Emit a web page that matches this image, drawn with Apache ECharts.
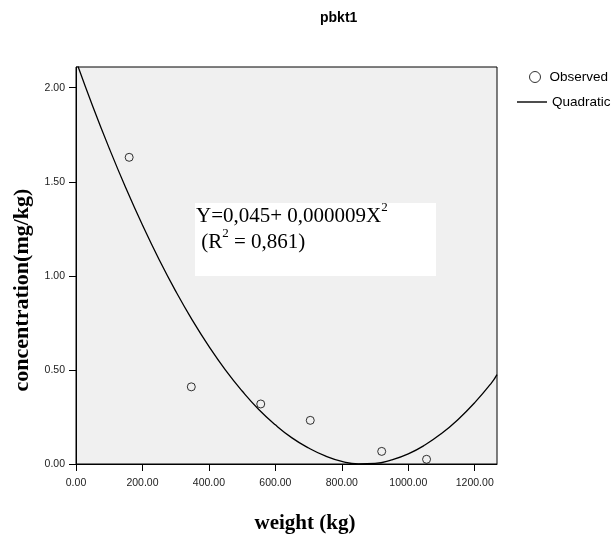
<!DOCTYPE html>
<html>
<head>
<meta charset="utf-8">
<script src="https://cdn.jsdelivr.net/npm/echarts@6/dist/echarts.min.js"></script>
<style>
  html, body { margin: 0; padding: 0; background: #fff; }
  #chart { width: 611px; height: 535px; }
</style>
</head>
<body>
<div id="chart"></div>
<script>
// observed points
const obsX = [160, 347, 556, 705, 920, 1055]
const obsY = [1.63, 0.41, 0.319, 0.232, 0.067, 0.025]

// quadratic curve
const fitX = [0, 50, 100, 150, 200, 250, 300, 350, 400, 450, 500, 550, 600, 650,
    700, 750, 800, 850, 900, 950, 1000, 1050, 1100, 1150, 1200, 1250, 1267]
const fitY = [2.143, 1.903, 1.678, 1.467, 1.270, 1.087, 0.919, 0.765, 0.625, 0.499,
    0.388, 0.290, 0.208, 0.139, 0.085, 0.043, 0.014, 0.001, 0.003, 0.022, 0.054,
    0.101, 0.162, 0.237, 0.326, 0.43, 0.475]

const xTicks = [0, 200, 400, 600, 800, 1000, 1200]
const yTicks = [0, 0.5, 1, 1.5, 2]

const sans = "'Liberation Sans', Arial, sans-serif"
const serif = "'Liberation Serif', 'Times New Roman', serif"

const chart = echarts.init(document.getElementById('chart'))

const option = {
    animation: false,
    backgroundColor: '#fff',
    title: {
        text: 'pbkt1',
        left: 315,
        top: 6,
        textStyle: { fontFamily: sans, fontSize: 14, fontWeight: 'bold', color: '#000' },
    },
    legend: [
        {
            data: [{ name: 'Observed', icon: 'circle' }],
            left: 529,
            top: 70,
            padding: 0,
            itemWidth: 11,
            itemHeight: 11,
            itemStyle: { color: 'rgba(0,0,0,0)', borderColor: '#000', borderWidth: 1 },
            textStyle: { fontFamily: sans, fontSize: 13.5, color: '#000', padding: [0, 0, 0, 4] },
        },
        {
            data: [{ name: 'Quadratic', icon: 'rect' }],
            left: 517,
            top: 95,
            padding: 0,
            itemWidth: 30,
            itemHeight: 1.4,
            itemStyle: { color: '#000', borderWidth: 0 },
            lineStyle: { width: 0 },
            textStyle: { fontFamily: sans, fontSize: 13.5, color: '#000' },
        },
    ],
    grid: {
        left: 76,
        top: 67,
        right: 114,
        bottom: 71,
        outerBoundsMode: 'none',
        show: true,
        backgroundColor: '#f0f0f0',
        borderColor: '#000',
        borderWidth: 1,
    },
    xAxis: {
        type: 'value',
        min: 0,
        max: 1267,
        name: 'weight (kg)',
        nameLocation: 'middle',
        nameGap: 49,
        nameTextStyle: { fontFamily: serif, fontSize: 21, fontWeight: 'bold', color: '#000', padding: [0, 0, 0, 37] },
        axisLine: { lineStyle: { color: '#000', width: 1 } },
        axisTick: { show: true, inside: false, length: 7, customValues: xTicks, lineStyle: { color: '#000' } },
        axisLabel: {
            customValues: xTicks,
            margin: 14,
            fontFamily: sans,
            fontSize: 10.5,
            color: '#222',
            formatter: (v) => v.toFixed(2),
        },
        splitLine: { show: false },
    },
    yAxis: {
        type: 'value',
        min: 0,
        max: 2.11,
        name: 'concentration(mg/kg)',
        nameLocation: 'middle',
        nameGap: 42,
        nameTextStyle: { fontFamily: serif, fontSize: 22, fontWeight: 'bold', color: '#000', padding: [0, 49, 0, 0] },
        axisLine: { show: true, lineStyle: { color: '#000', width: 1 } },
        axisTick: { show: true, inside: false, length: 7, customValues: yTicks, lineStyle: { color: '#000' } },
        axisLabel: {
            customValues: yTicks,
            margin: 11,
            fontFamily: sans,
            fontSize: 10.5,
            color: '#222',
            formatter: (v) => v.toFixed(2),
        },
        splitLine: { show: false },
    },
    graphic: [
        {
            type: 'rect',
            shape: { x: 195, y: 203, width: 241, height: 73 },
            style: { fill: '#fff' },
            z: 5,
        },
        {
            type: 'text',
            x: 196,
            y: 201,
            z: 6,
            style: {
                text: '{a|Y=0,045+ 0,000009X}{s|2}\n{a| (R}{s|2}{a| = 0,861)}',
                rich: {
                    a: { fontFamily: serif, fontSize: 21, lineHeight: 26, color: '#000', verticalAlign: 'bottom' },
                    s: { fontFamily: serif, fontSize: 13, lineHeight: 26, color: '#000', verticalAlign: 'top' },
                },
            },
        },
    ],
    series: [
        {
            name: 'Observed',
            type: 'scatter',
            symbol: 'circle',
            symbolSize: 8,
            itemStyle: { color: 'rgba(0,0,0,0)', borderColor: '#000', borderWidth: 1 },
            data: obsX.map((x, i) => [x, obsY[i]]),
            z: 3,
        },
        {
            name: 'Quadratic',
            type: 'line',
            smooth: true,
            symbol: 'none',
            clip: true,
            lineStyle: { color: '#000', width: 1.3 },
            itemStyle: { color: '#000' },
            data: fitX.map((x, i) => [x, fitY[i]]),
            z: 2,
        },
    ],
}

chart.setOption(option)
</script>
</body>
</html>
